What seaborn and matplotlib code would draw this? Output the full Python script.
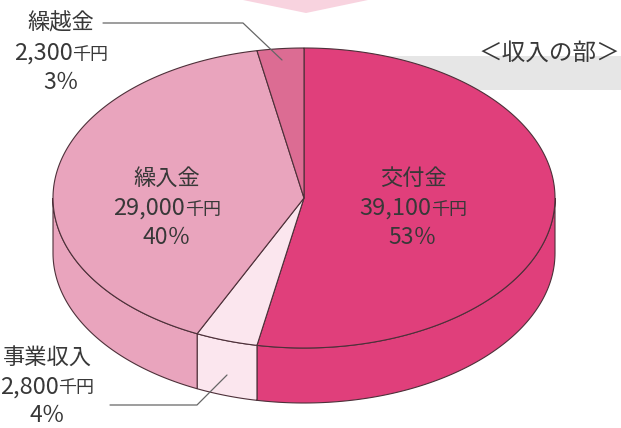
import numpy as np
import seaborn as sns
import matplotlib.pyplot as plt
from matplotlib.patches import Polygon
from matplotlib.offsetbox import TextArea, HPacker, AnnotationBbox

# Data (clockwise from 12 o'clock)
labels = ['交付金', '事業収入', '繰入金', '繰越金']
amounts = [39100, 2800, 29000, 2300]   # 千円
percents = [53, 4, 40, 3]
colors = ['#E03F7B', '#FBE6EE', '#E9A4BD', '#DC6C93']

title = '＜収入の部＞'

sns.set_theme(style='white')
plt.rcParams['font.family'] = ['Noto Sans CJK JP', 'DejaVu Sans']

fig = plt.figure(figsize=(6.21, 4.28), dpi=100)
ax = fig.add_axes([0, 0, 1, 1])
ax.set_xlim(0, 621)
ax.set_ylim(428, 0)
ax.axis('off')

# pie geometry (pixel space)
CX, CY, RX, RY, DEPTH = 304, 198, 251, 150, 55
EDGE = '#4d3039'
TXT = '#383838'


def pt(theta):
    t = np.radians(theta)
    return CX + RX * np.sin(t), CY - RY * np.cos(t)


# background decorations
ax.add_patch(Polygon([(243, 0), (368, 0), (306, 13)], closed=True,
                     facecolor='#F8D3DF', edgecolor='none', zorder=0))
ax.add_patch(Polygon([(300, 56), (621, 56), (621, 90), (300, 90)], closed=True,
                     facecolor='#E6E6E6', edgecolor='none', zorder=0))

bounds = np.concatenate([[0], np.cumsum(percents)]) / sum(percents) * 360

# side faces (front half only)
for i in range(len(percents)):
    t1, t2 = max(bounds[i], 90), min(bounds[i + 1], 270)
    if t2 <= t1:
        continue
    th = np.linspace(t1, t2, 100)
    xs, ys = pt(th)
    poly = list(zip(xs, ys)) + list(zip(xs[::-1], ys[::-1] + DEPTH))
    ax.add_patch(Polygon(poly, closed=True, facecolor=colors[i],
                         edgecolor=EDGE, linewidth=0.8, zorder=2))

# top faces
for i in range(len(percents)):
    th = np.linspace(bounds[i], bounds[i + 1], 200)
    xs, ys = pt(th)
    poly = [(CX, CY)] + list(zip(xs, ys))
    ax.add_patch(Polygon(poly, closed=True, facecolor=colors[i],
                         edgecolor=EDGE, linewidth=0.8, zorder=3))


def label(x, y, name, amount, pct):
    ax.text(x, y - 30, name, ha='center', va='center', fontsize=16,
            color=TXT, zorder=5)
    box = HPacker(children=[
        TextArea(f'{amount:,}', textprops=dict(fontsize=17, color=TXT)),
        TextArea('千円', textprops=dict(fontsize=13, color=TXT))],
        align='baseline', pad=0, sep=0)
    ax.add_artist(AnnotationBbox(box, (x, y), frameon=False, pad=0,
                                 box_alignment=(0.5, 0.5), zorder=5))
    ax.text(x, y + 29, f'{pct}％', ha='center', va='center', fontsize=16.5,
            color=TXT, zorder=5)


label(413, 208, labels[0], amounts[0], percents[0])
label(167, 208, labels[2], amounts[2], percents[2])
label(61, 53, labels[3], amounts[3], percents[3])
label(47, 387, labels[1], amounts[1], percents[1])

# leader lines
ax.plot([103, 243, 282], [23, 23, 60], color='#666666', lw=0.9, zorder=4)
ax.plot([110, 197, 227], [405, 405, 375], color='#666666', lw=0.9, zorder=4)

ax.text(549, 53, title, ha='center', va='center', fontsize=17, color=TXT, zorder=5)

fig.savefig('out.png', dpi=100)
